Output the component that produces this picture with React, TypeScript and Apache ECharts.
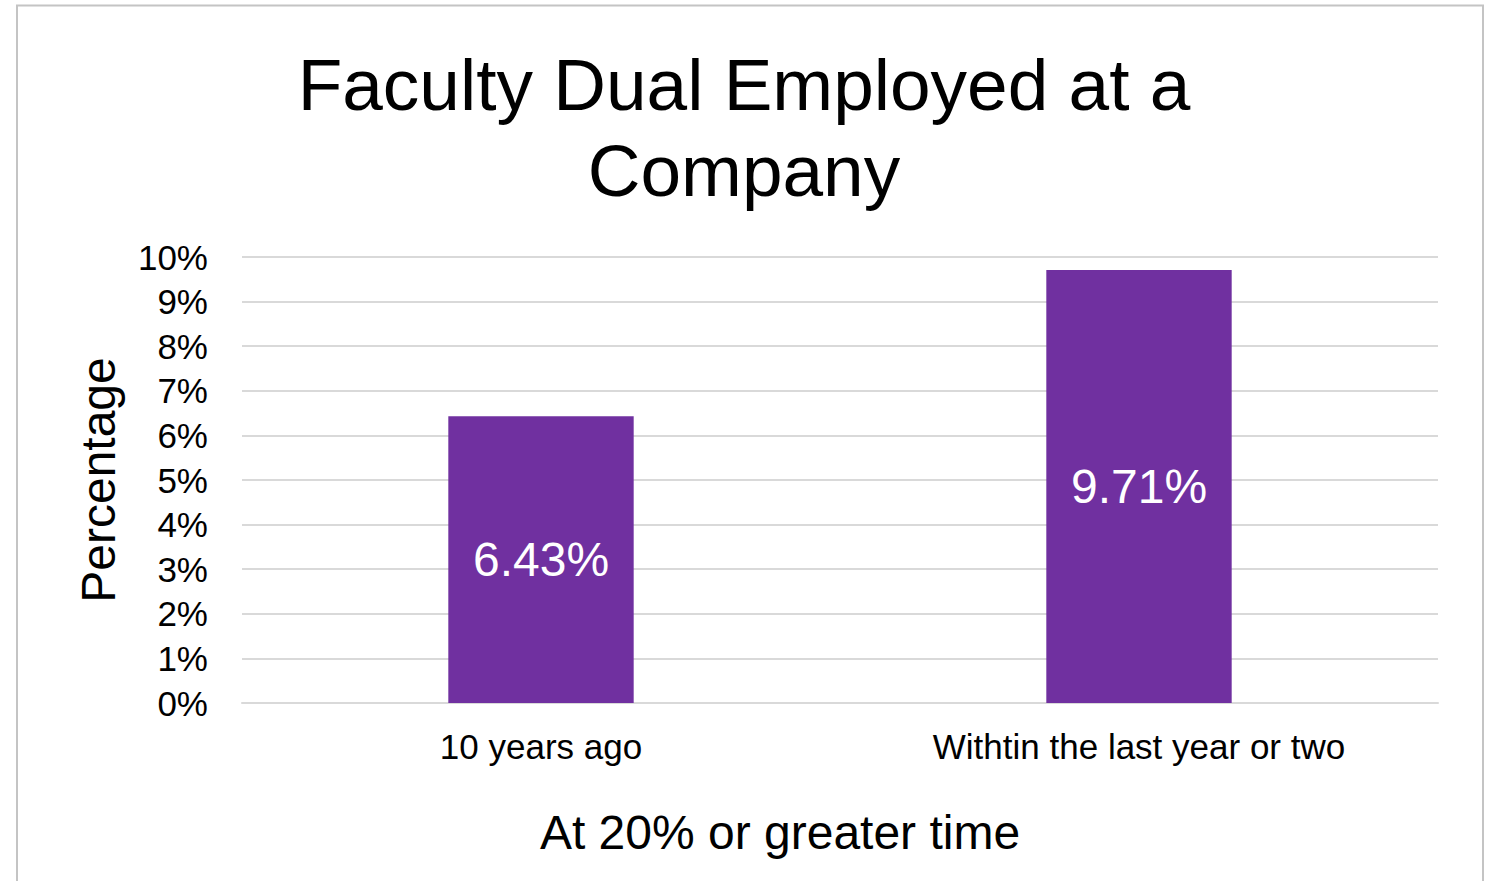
import React, { useEffect, useRef } from "react";
import * as echarts from "echarts";

const categories = ["10 years ago", "Withtin the last year or two"];
const values = [6.43, 9.71];
const titleText = "Faculty Dual Employed at a\nCompany";
const xAxisName = "At 20% or greater time";
const yAxisName = "Percentage";

export default function App() {
  const ref = useRef<HTMLDivElement>(null);
  useEffect(() => {
    if (!ref.current) return;
    const chart = echarts.init(ref.current, undefined, { renderer: "svg" });
    const font = "'Liberation Sans', Arial, sans-serif";
    chart.setOption({
      animation: false,
      backgroundColor: "#ffffff",
      textStyle: { fontFamily: font },
      title: {
        text: titleText,
        left: "center",
        top: 36,
        textStyle: {
          fontFamily: font,
          fontSize: 73,
          fontWeight: "normal",
          color: "#000000",
          lineHeight: 86,
        },
      },
      graphic: [
        {
          type: "rect",
          shape: { x: 17, y: 5.5, width: 1466, height: 1000 },
          style: { fill: "none", stroke: "#c4c4c4", lineWidth: 2 },
          silent: true,
        },
        {
          type: "text",
          x: 780,
          y: 832,
          style: {
            text: xAxisName,
            fontFamily: font,
            fontSize: 48,
            fill: "#000000",
            align: "center",
            verticalAlign: "middle",
          },
        },
      ],
      grid: { left: 242, right: 50, top: 257, bottom: 178, containLabel: false },
      xAxis: {
        type: "category",
        data: categories,
        axisLine: { show: true, lineStyle: { color: "#d9d9d9", width: 2 } },
        axisTick: { show: false },
        axisLabel: {
          color: "#000000",
          fontSize: 35,
          fontFamily: font,
          margin: 26,
        },
      },
      yAxis: {
        type: "value",
        min: 0,
        max: 10,
        interval: 1,
        name: yAxisName,
        nameLocation: "middle",
        nameGap: 120,
        nameTextStyle: { fontSize: 48, fontFamily: font, color: "#000000" },
        axisLine: { show: false },
        axisTick: { show: false },
        axisLabel: {
          formatter: "{value}%",
          color: "#000000",
          fontSize: 35,
          fontFamily: font,
          margin: 34,
        },
        splitLine: { show: true, lineStyle: { color: "#d9d9d9", width: 2 } },
      },
      series: [
        {
          type: "bar",
          data: values,
          barWidth: "31%",
          itemStyle: { color: "#7030A0" },
          label: {
            show: true,
            position: "inside",
            formatter: (p: any) => p.value.toFixed(2) + "%",
            color: "#ffffff",
            fontSize: 48,
            fontFamily: font,
          },
        },
      ],
    });
    return () => chart.dispose();
  }, []);
  return (
    <div
      ref={ref}
      style={{ position: "absolute", left: 0, top: 0, width: 1488, height: 881 }}
    />
  );
}
